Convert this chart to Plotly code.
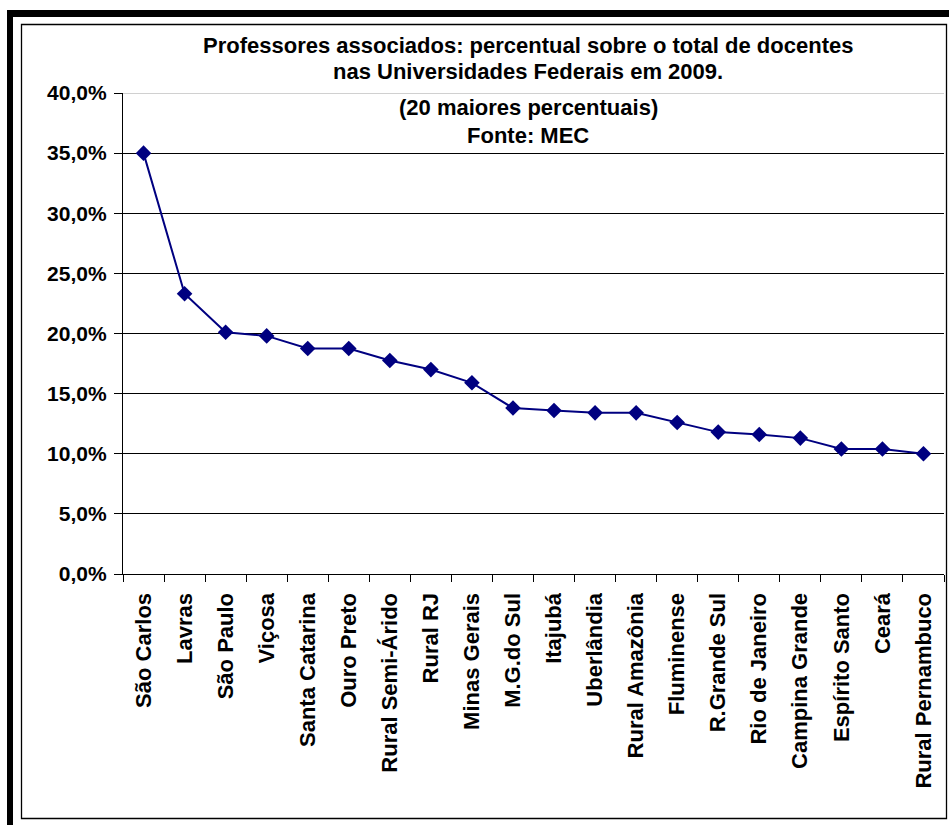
import plotly.graph_objects as go

categories = ["São Carlos", "Lavras", "São Paulo", "Viçosa", "Santa Catarina",
              "Ouro Preto", "Rural Semi-Árido", "Rural RJ", "Minas Gerais",
              "M.G.do Sul", "Itajubá", "Uberlândia", "Rural Amazônia",
              "Fluminense", "R.Grande Sul", "Rio de Janeiro", "Campina Grande",
              "Espírito Santo", "Ceará", "Rural Pernambuco"]
values = [35.0, 23.3, 20.1, 19.8, 18.75, 18.75, 17.75, 17.0, 15.9, 13.8,
          13.6, 13.4, 13.4, 12.6, 11.8, 11.6, 11.3, 10.4, 10.4, 10.0]
y_ticks = [0, 5, 10, 15, 20, 25, 30, 35, 40]
y_tick_labels = ["0,0%", "5,0%", "10,0%", "15,0%", "20,0%", "25,0%", "30,0%", "35,0%", "40,0%"]
title_lines = ["Professores associados: percentual sobre o total de docentes",
               "nas Universidades Federais em 2009.",
               "(20 maiores percentuais)",
               "Fonte: MEC"]

W, H = 949, 825
L, R, T, B = 123, 944, 93, 574   # plot area in pixels

def px(x):
    return (x - L) / (R - L)

def py(y):
    return (B - y) / (B - T)

FONT = "Liberation Sans, Arial, sans-serif"
NAVY = "#000080"

fig = go.Figure()
fig.add_trace(go.Scatter(
    x=categories, y=values, mode="lines+markers",
    line=dict(color=NAVY, width=2),
    marker=dict(symbol="diamond", size=12, color=NAVY),
    showlegend=False, cliponaxis=False,
))

shapes = [
    dict(type="rect", xref="paper", yref="paper", x0=px(7), x1=px(W + 5), y0=py(17), y1=py(10),
         fillcolor="black", line=dict(width=0), layer="below"),
    dict(type="rect", xref="paper", yref="paper", x0=px(7), x1=px(13), y0=py(H + 5), y1=py(10),
         fillcolor="black", line=dict(width=0), layer="below"),
    dict(type="rect", xref="paper", yref="paper", x0=px(21.5), x1=px(946.5), y0=py(818.5), y1=py(24.5),
         fillcolor="rgba(0,0,0,0)", line=dict(color="black", width=1.3), layer="below"),
    dict(type="line", xref="paper", yref="y", x0=0, x1=1, y0=40, y1=40,
         line=dict(color="#c0c0c0", width=1.3), layer="below"),
]

annotations = []
line_y = [46, 71, 108, 135]
for txt, yy in zip(title_lines, line_y):
    annotations.append(dict(text=txt, xref="paper", yref="paper", x=px(528), y=py(yy),
                            xanchor="center", yanchor="middle", showarrow=False,
                            font=dict(family=FONT, size=22, color="black", weight="bold")))

fig.update_layout(
    width=W, height=H,
    margin=dict(l=L, r=W - R, t=T, b=H - B, pad=0),
    paper_bgcolor="white", plot_bgcolor="white",
    shapes=shapes, annotations=annotations,
    xaxis=dict(
        type="category", tickangle=-90, tickson="boundaries",
        ticks="outside", ticklen=7, tickcolor="black", tickwidth=1.3,
        showline=True, linecolor="black", linewidth=1.3, showgrid=False,
        tickfont=dict(family=FONT, size=22, color="black", weight="bold"),
        range=[-0.5, len(categories) - 0.5], zeroline=False,
        ticklabelstandoff=9,
    ),
    yaxis=dict(
        range=[0, 40], tickvals=y_ticks, ticktext=y_tick_labels,
        ticks="outside", ticklen=8, tickcolor="black", tickwidth=1.3,
        showline=True, linecolor="black", linewidth=1.3,
        showgrid=True, gridcolor="black", gridwidth=1.3, zeroline=False,
        tickfont=dict(family=FONT, size=21, color="black", weight="bold"),
        ticklabelstandoff=3,
    ),
)

fig.write_html("out.html")
